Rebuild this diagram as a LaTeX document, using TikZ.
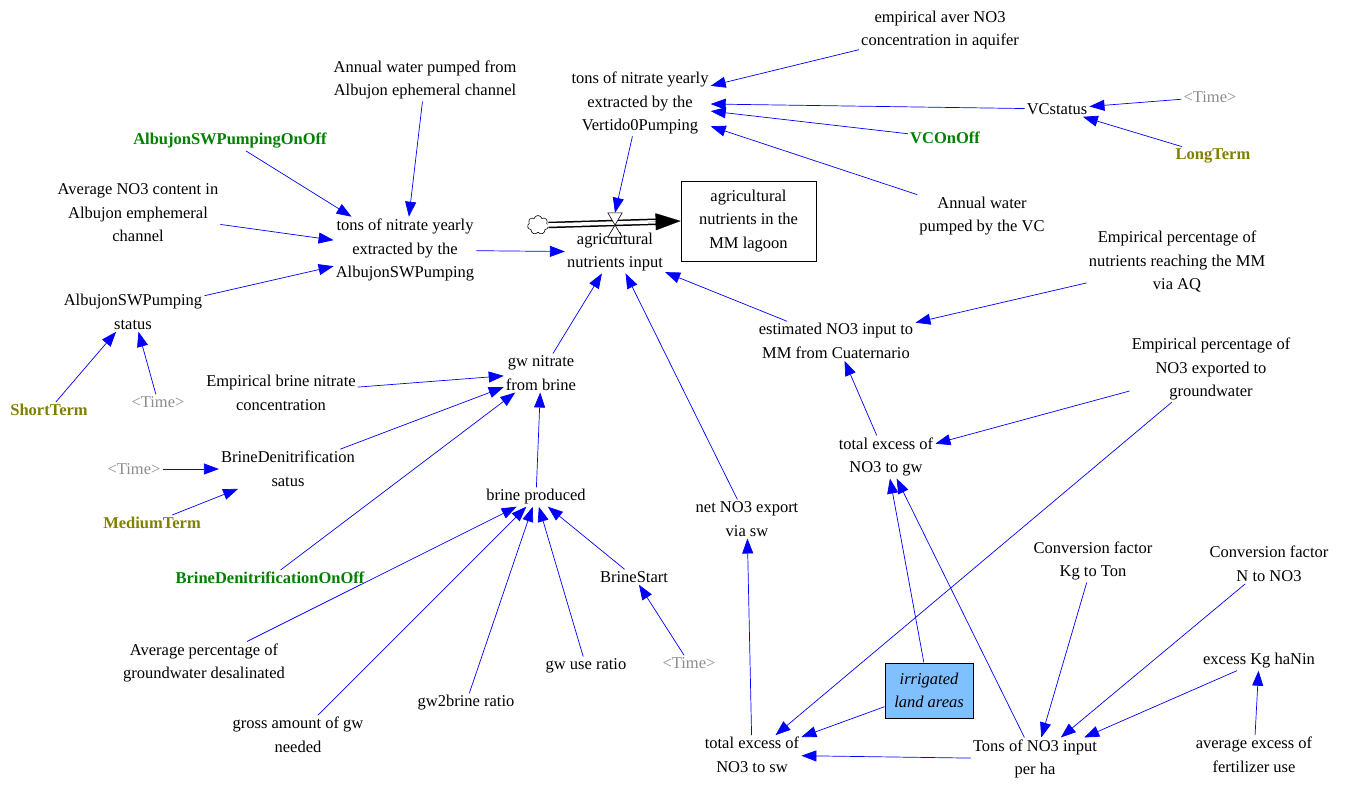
\documentclass[tikz,border=0pt]{standalone}
\usepackage{fontspec}
\setmainfont{Liberation Serif}
\usetikzlibrary{arrows.meta,shapes.symbols}
\definecolor{vgreen}{RGB}{0,128,0}
\definecolor{volive}{RGB}{128,128,0}
\definecolor{vgray}{RGB}{140,140,140}
\definecolor{vblue}{RGB}{0,0,255}
\definecolor{auxfill}{RGB}{128,192,255}
\begin{document}
\begin{tikzpicture}[x=1pt,y=-1pt,
  every node/.style={font=\fontsize{16.5}{23.5}\selectfont, align=center, inner sep=2pt},
  shadow/.style={text=vgray},
  swgreen/.style={text=vgreen, font=\fontsize{16.5}{23.5}\selectfont\bfseries},
  swolive/.style={text=volive, font=\fontsize{16.5}{23.5}\selectfont\bfseries},
  stockbox/.style={draw=black, line width=0.8pt, minimum width=135pt, minimum height=80pt},
  auxbox/.style={draw=black, line width=0.8pt, fill=auxfill, minimum width=88pt, minimum height=55pt, font=\fontsize{16.5}{23.5}\selectfont\itshape},
  lnk/.style={draw=vblue, line width=0.7pt, -{Triangle[length=15pt,width=11pt]}},
]
\useasboundingbox (0,0) rectangle (1346,785);

% variables
\node (ean) at (940,30) {empirical aver NO3\\concentration in aquifer};
\node (tv) at (640,103) {tons of nitrate yearly\\extracted by the\\Vertido0Pumping};
\node (vcs) at (1057,109) {VCstatus};
\node[shadow] (t1) at (1210,97) {<Time>};
\node[swolive] (lt) at (1213,156) {LongTerm};
\node[swgreen] (vco) at (945,138) {VCOnOff};
\node (awvc) at (982,216) {Annual water\\pumped by the VC};
\node (awa) at (425,80) {Annual water pumped from\\Albujon ephemeral channel};
\node[swgreen] (asoo) at (230,141) {AlbujonSWPumpingOnOff};
\node (avn) at (138,213) {Average NO3 content in\\Albujon emphemeral\\channel};
\node (ta) at (405,250) {tons of nitrate yearly\\extracted by the\\AlbujonSWPumping};
\node (ass) at (133,312) {AlbujonSWPumping\\status};
\node[swolive] (st) at (49,410) {ShortTerm};
\node[shadow] (t2) at (158,402) {<Time>};
\node (ani) at (615,252) {agricultural\\nutrients input};
\node[stockbox] (stock) at (748.5,221) {agricultural\\nutrients in the\\MM lagoon};
\node (epr) at (1177,262) {Empirical percentage of\\nutrients reaching the MM\\via AQ};
\node (est) at (836,341) {estimated NO3 input to\\MM from Cuaternario};
\node (ebn) at (281,393) {Empirical brine nitrate\\concentration};
\node (gwn) at (541,373) {gw nitrate\\from brine};
\node[shadow] (t3) at (134,469) {<Time>};
\node (bds) at (288,469) {BrineDenitrification\\satus};
\node[swolive] (mt) at (152,523) {MediumTerm};
\node (bp) at (536,497) {brine produced};
\node[swgreen] (bdoo) at (270,578) {BrineDenitrificationOnOff};
\node (epn) at (1211,369) {Empirical percentage of\\NO3 exported to\\groundwater};
\node (teg) at (886,457) {total excess of\\NO3 to gw};
\node (nsw) at (747,519) {net NO3 export\\via sw};
\node (bs) at (634,577) {BrineStart};
\node[shadow] (t4) at (689,663) {<Time>};
\node (cfk) at (1093,561) {Conversion factor\\Kg to Ton};
\node (cfn) at (1269,564) {Conversion factor\\N to NO3};
\node (ekh) at (1259,661) {excess Kg haNin};
\node (aef) at (1254,755) {average excess of\\fertilizer use};
\node (apd) at (204,663) {Average percentage of\\groundwater desalinated};
\node (gag) at (298,735) {gross amount of gw\\needed};
\node (gbr) at (466,703) {gw2brine ratio};
\node (gur) at (586,666) {gw use ratio};
\node[auxbox] (ila) at (929,690.5) {irrigated\\land areas};
\node (tes) at (752,755) {total excess of\\NO3 to sw};
\node (tnh) at (1035,759) {Tons of NO3 input\\per ha};

% flow
\node[cloud, cloud puffs=7, cloud puff arc=150, aspect=1.1, draw, line width=0.6pt, minimum width=21pt, minimum height=19pt, inner sep=0pt] (cloud) at (538,225) {};
\node[minimum width=14pt, minimum height=24pt, inner sep=0pt] (valve) at (615,225) {};
\draw[black, line width=6.5pt, shorten >=24pt] (cloud.east) -- (stock.west);
\draw[white, line width=3.5pt, shorten >=24pt, shorten <=-1pt] (cloud.east) -- (stock.west);
\draw[line width=0.1pt, shorten <=100pt, -{Triangle[length=25pt,width=17pt]}] (cloud.east) -- (stock.west);
\draw[line width=0.6pt, fill=white] (valve.north west) -- (valve.north east) -- (valve.south west) -- (valve.south east) -- cycle;

% links
\draw[lnk] (ean) -- (tv);
\draw[lnk] (vcs) -- (tv);
\draw[lnk] (vco) -- (tv);
\draw[lnk] (awvc) -- (tv);
\draw[lnk] (t1) -- (vcs);
\draw[lnk] (lt) -- (vcs);
\draw[lnk] (tv) -- (valve.north);
\draw[lnk] (awa) -- (ta);
\draw[lnk] (asoo) -- (ta);
\draw[lnk] (avn) -- (ta);
\draw[lnk] (ass) -- (ta);
\draw[lnk] (ta) -- (ani);
\draw[lnk] (st) -- (ass);
\draw[lnk] (t2) -- (ass);
\draw[lnk] (gwn) -- (ani);
\draw[lnk] (nsw) -- (ani);
\draw[lnk] (est) -- (ani);
\draw[lnk] (epr) -- (est);
\draw[lnk] (teg) -- (est);
\draw[lnk] (ebn) -- (gwn);
\draw[lnk] (bds) -- (gwn);
\draw[lnk] (bdoo) -- (gwn);
\draw[lnk] (bp) -- (gwn);
\draw[lnk] (t3) -- (bds);
\draw[lnk] (mt) -- (bds);
\draw[lnk] (apd) -- (bp);
\draw[lnk] (gag) -- (bp);
\draw[lnk] (gbr) -- (bp);
\draw[lnk] (gur) -- (bp);
\draw[lnk] (bs) -- (bp);
\draw[lnk] (t4) -- (bs);
\draw[lnk] (epn) -- (teg);
\draw[lnk] (epn) -- (tes);
\draw[lnk] (tes) -- (nsw);
\draw[lnk] (ila) -- (teg);
\draw[lnk] (tnh) -- (teg);
\draw[lnk] (ila) -- (tes);
\draw[lnk] (tnh) -- (tes);
\draw[lnk] (cfk) -- (tnh);
\draw[lnk] (cfn) -- (tnh);
\draw[lnk] (ekh) -- (tnh);
\draw[lnk] (aef) -- (ekh);
\end{tikzpicture}
\end{document}
